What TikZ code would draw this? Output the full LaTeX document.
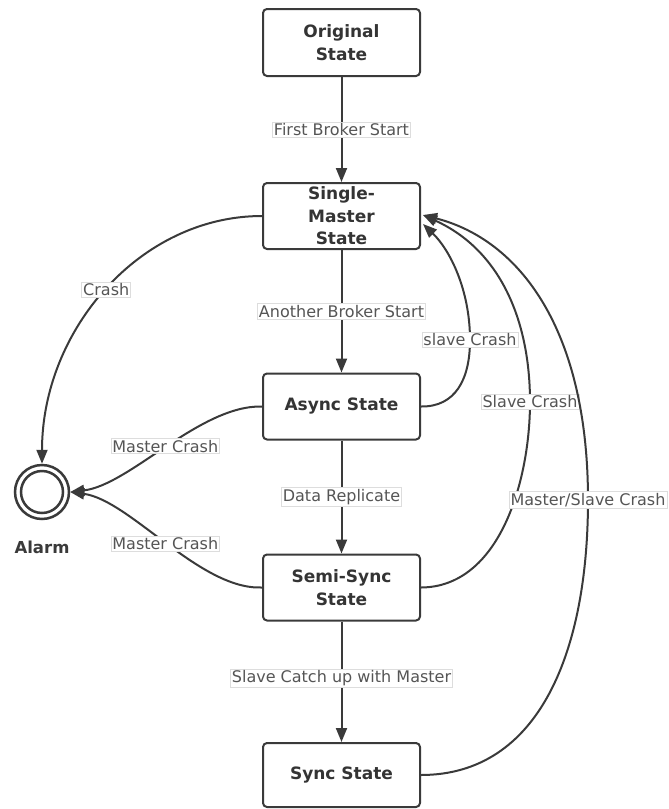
\documentclass[tikz,border=0pt]{standalone}
\usepackage{fontspec}
\setmainfont{DejaVu Sans}
\usetikzlibrary{arrows.meta,calc}
\definecolor{ln}{HTML}{3A3A3A}
\definecolor{lbltxt}{HTML}{555555}
\definecolor{lblbd}{HTML}{DDDDDD}
\tikzset{
  statebox/.style={draw=ln,line width=2pt,rounded corners=4pt,fill=white,minimum width=157pt,align=center,
    font=\fontsize{17}{22.5}\selectfont\bfseries,text=ln!90!black},
  lbl/.style={fill=white,draw=lblbd,line width=0.6pt,inner sep=1.5pt,text=lbltxt,font=\fontsize{16}{18}\selectfont},
  conn/.style={draw=ln,line width=2pt,-{Triangle[length=14pt,width=11pt]}},
}
\begin{document}
\begin{tikzpicture}[x=1pt,y=-1pt]
\useasboundingbox (0,0) rectangle (669,809);
\node[statebox,minimum height=67pt] (orig) at (341.5,42.5) {Original\\State};
\node[statebox,minimum height=66pt] (single) at (341.5,216) {Single-\\Master\\State};
\node[statebox,minimum height=66pt] (async) at (341.5,406.5) {Async State};
\node[statebox,minimum height=66pt] (semi) at (341.5,587.5) {Semi-Sync\\State};
\node[statebox,minimum height=64pt] (sync) at (341.5,775) {Sync State};
\node[circle,draw=ln,line width=2.5pt,minimum size=54pt,inner sep=0pt] (alarm) at (42,492) {};
\node[circle,draw=ln,line width=2.5pt,minimum size=42pt,inner sep=0pt] (alarmin) at (42,492) {};
\node[font=\fontsize{16.5}{18}\selectfont\bfseries,text=ln] (alarmlbl) at (42,547) {Alarm};

\coordinate (seA) at ($(single.east)+(2,8)$);
\coordinate (seB) at ($(single.east)+(2,-1)$);

\draw[conn] (orig) -- node[lbl] {First Broker Start} (single);
\draw[conn] (single) -- node[lbl] {Another Broker Start} (async);
\draw[conn] (async) -- node[lbl] {Data Replicate} (semi);
\draw[conn] (semi) -- node[lbl,pos=0.47] {Slave Catch up with Master} (sync);

\draw[conn] (single.west) .. controls (140,216) and (42,330) .. node[lbl] {Crash} (alarm.north);
\draw[conn] (async.west) .. controls (200,405) and (130,485) .. node[lbl] {Master Crash} (alarm.east);
\draw[conn] (semi.west) .. controls (200,590) and (130,500) .. node[lbl] {Master Crash} (alarm.east);

\draw[conn] (async.east) .. controls (455,407) and (470,380) .. (470,340) node[lbl] {slave Crash}
   .. controls (470,290) and (450,250) .. (seA);
\draw[conn] (semi.east) .. controls (500,587) and (530,480) .. (530,402) node[lbl] {Slave Crash}
   .. controls (530,320) and (500,250) .. (seB);
\draw[conn] (sync.east) .. controls (540,775) and (588,650) .. (588,500) node[lbl] {Master/Slave Crash}
   .. controls (588,330) and (520,240) .. (seB);
\end{tikzpicture}
\end{document}
